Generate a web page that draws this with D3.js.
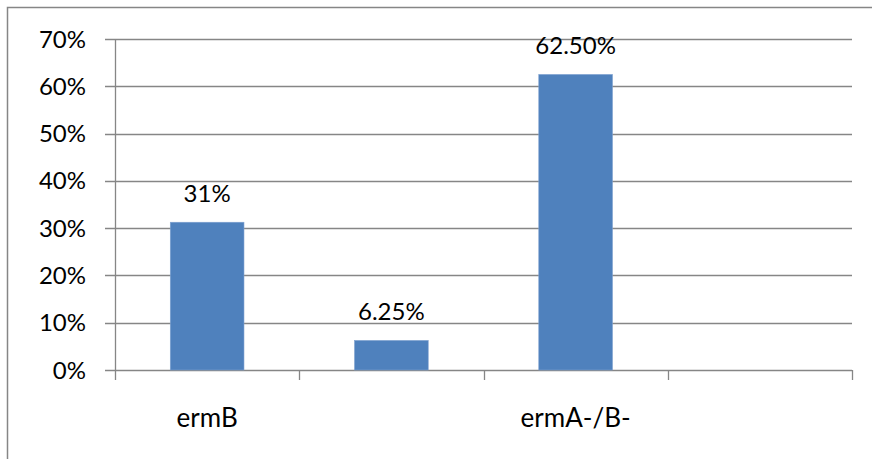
<!DOCTYPE html>
<html>
<head>
<meta charset="utf-8">
<script src="https://cdn.jsdelivr.net/npm/d3@7"></script>
<style>
  body { margin: 0; background: #fff; }
  text { font-family: Lato, "Noto Sans", sans-serif; fill: #000; }
</style>
</head>
<body>
<div id="chart"></div>
<script>
// chart data
const categories = ["ermB", "cat2", "ermA-/B-", "cat4"];
const tickLabels = ["ermB", "", "ermA-/B-", ""];
const values = [0.3125, 0.0625, 0.625, null];
const valueLabels = ["31%", "6.25%", "62.50%", ""];
const yTicks = [0, 0.1, 0.2, 0.3, 0.4, 0.5, 0.6, 0.7];

const width = 872, height = 459,
    plotLeft = 115, plotRight = 852, plotTop = 39, plotBottom = 370,
    gridColor = "#868686", barColor = "#4f81bd";

const svg = d3.select("#chart").append("svg")
    .attr("width", width)
    .attr("height", height);

// outer chart frame (cropped on right and bottom)
svg.append("rect")
    .attr("x", 7.5).attr("y", 7.5)
    .attr("width", 900).attr("height", 500)
    .attr("fill", "none")
    .attr("stroke", gridColor)
    .attr("stroke-width", 1.5);

const y = d3.scaleLinear().domain([0, 0.7]).range([plotBottom, plotTop]);

const xCat = d3.scaleBand()
    .domain(categories)
    .range([plotLeft, plotRight]);

const x = d3.scaleBand()
    .domain(categories)
    .range([plotLeft, plotRight])
    .paddingInner(0.6)
    .paddingOuter(0.3);

// gridlines + y ticks
const g = svg.append("g");
g.selectAll(".grid")
    .data(yTicks)
    .enter().append("line")
    .attr("x1", plotLeft - 10).attr("x2", plotRight)
    .attr("y1", (d) => Math.round(y(d)) + 0.5)
    .attr("y2", (d) => Math.round(y(d)) + 0.5)
    .attr("stroke", gridColor)
    .attr("stroke-width", 1.3);

g.selectAll(".ylab")
    .data(yTicks)
    .enter().append("text")
    .attr("x", 86)
    .attr("y", (d) => y(d))
    .attr("dy", "0.36em")
    .attr("text-anchor", "end")
    .attr("font-size", 24)
    .text((d) => d3.format(".0%")(d));

// y axis line
g.append("line")
    .attr("x1", plotLeft + 0.5).attr("x2", plotLeft + 0.5)
    .attr("y1", plotTop).attr("y2", plotBottom + 10)
    .attr("stroke", gridColor).attr("stroke-width", 1.3);

// x tick marks at category boundaries
const bounds = categories.map((c) => xCat(c)).concat([plotRight]);
g.selectAll(".xtick")
    .data(bounds.slice(1))
    .enter().append("line")
    .attr("x1", (d) => Math.round(d) + 0.5)
    .attr("x2", (d) => Math.round(d) + 0.5)
    .attr("y1", plotBottom).attr("y2", plotBottom + 10)
    .attr("stroke", gridColor).attr("stroke-width", 1.3);

// bars
const bars = categories.map((c, i) => ({cat: c, v: values[i], label: valueLabels[i]}))
    .filter((d) => d.v !== null);

svg.selectAll(".bar")
    .data(bars)
    .enter().append("rect")
    .attr("x", (d) => x(d.cat))
    .attr("y", (d) => y(d.v))
    .attr("width", x.bandwidth())
    .attr("height", (d) => y(0) - y(d.v))
    .attr("fill", barColor)
    .attr("stroke", "#7ea1d0")
    .attr("stroke-width", 0.6);

// value labels
svg.selectAll(".vlab")
    .data(bars)
    .enter().append("text")
    .attr("x", (d) => x(d.cat) + x.bandwidth() / 2)
    .attr("y", (d) => y(d.v) - 29)
    .attr("dy", "0.36em")
    .attr("text-anchor", "middle")
    .attr("font-size", 24)
    .text((d) => d.label);

// category labels
svg.selectAll(".xlab")
    .data(categories)
    .enter().append("text")
    .attr("x", (d) => xCat(d) + xCat.bandwidth() / 2)
    .attr("y", 418)
    .attr("dy", "0.36em")
    .attr("text-anchor", "middle")
    .attr("font-size", 26)
    .text((d, i) => tickLabels[i]);
</script>
</body>
</html>
